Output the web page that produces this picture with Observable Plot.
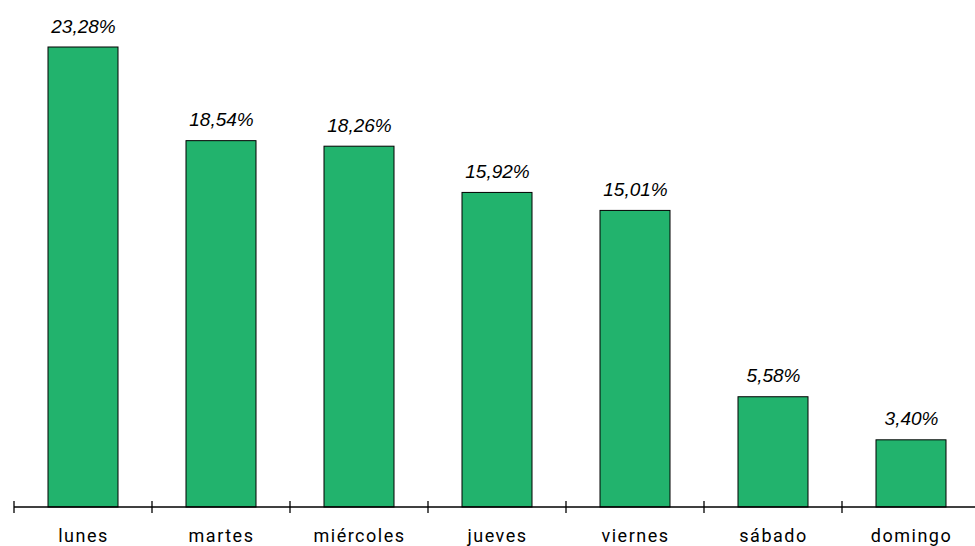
<!DOCTYPE html>
<html><head><meta charset="utf-8">
<script src="https://cdn.jsdelivr.net/npm/d3@7"></script>
<script src="https://cdn.jsdelivr.net/npm/@observablehq/plot@0.6"></script>
<style>body{margin:0;background:#fff}svg{overflow:hidden}</style>
</head><body><div id="chart"></div>
<script>
const days = ["lunes","martes","miércoles","jueves","viernes","sábado","domingo"];
const values = [23.28, 18.54, 18.26, 15.92, 15.01, 5.58, 3.40];
const labels = ["23,28%","18,54%","18,26%","15,92%","15,01%","5,58%","3,40%"];
const data = days.map((d,i)=>({day:d, value:values[i], label:labels[i]}));

function axisMark() {
  return Plot.marks(() => ({
    render(index, scales) { return null; }
  }));
}

const axis = (index, scales, values, dims) => {
  const g = d3.create("svg:g");
  const y0 = scales.y(0);
  const x = scales.x;
  const step = x.step ? x.step() : (x(days[1]) - x(days[0]));
  const bw = x.bandwidth();
  const starts = days.map(d => x(d) + bw/2 - step/2);
  const end = starts[starts.length-1] + step;
  g.append("line").attr("x1", starts[0]).attr("x2", end).attr("y1", y0).attr("y2", y0).attr("stroke","#000").attr("stroke-width",1.3);
  starts.concat([end]).forEach(xx => {
    g.append("line").attr("x1", xx).attr("x2", xx).attr("y1", y0-6).attr("y2", y0+6).attr("stroke","#000").attr("stroke-width",1.3);
  });
  return g.node();
};

const chart = Plot.plot({
  width: 975, height: 546,
  marginTop: 47, marginBottom: 39, marginLeft: 12, marginRight: 0,
  x: {domain: days, range: [12, 981], paddingInner: 0.495, paddingOuter: 0.2475, align: 0.5, axis: null},
  y: {domain: [0, 23.28], axis: null},
  marks: [
    Plot.barY(data, {x:"day", y:"value", fill:"#22b36d", stroke:"#000", strokeWidth:1}),
    Plot.dot([0], {x: () => days[0], y: 0, r: 0, render: axis}),
    Plot.text(data, {x:"day", y:"value", text:"label", dy:-21, fontSize:19, fontStyle:"italic", fontFamily:"Liberation Sans, Arial, sans-serif", fill:"#000"}),
    Plot.text(data, {x:"day", y:0, text:"day", dy:29, fontSize:18, fontFamily:"Roboto, sans-serif", fill:"#000"})
  ]
});
chart.querySelectorAll("text").forEach(t=>{ if(days.includes(t.textContent)) t.style.letterSpacing="1.5px"; });
document.getElementById("chart").appendChild(chart);
</script></body></html>
